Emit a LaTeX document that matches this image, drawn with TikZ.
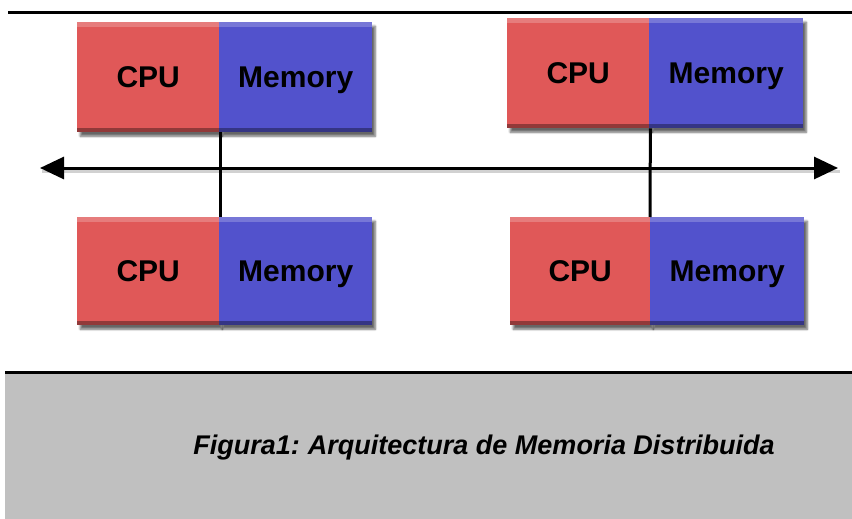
\documentclass[tikz,border=0pt]{standalone}
\usepackage{fontspec}
\setmainfont{Liberation Sans}
\usetikzlibrary{shadows.blur,arrows.meta}
\definecolor{cpured}{RGB}{224,88,88}
\definecolor{memblue}{RGB}{82,82,204}
\definecolor{capgray}{RGB}{192,192,192}
\tikzset{
  part/.style={anchor=north west, inner sep=0pt, minimum height=110pt,
    font=\fontsize{30}{30}\selectfont\bfseries, text height=21pt, text depth=0pt,
    blur shadow={shadow xshift=3pt, shadow yshift=-4pt, shadow blur steps=6, shadow opacity=60},
    path picture={
      \fill[white,opacity=0.22] (path picture bounding box.north west) rectangle ([yshift=-5pt]path picture bounding box.north east);
      \fill[black,opacity=0.35] (path picture bounding box.south west) rectangle ([yshift=4pt]path picture bounding box.south east);
    }},
  cpubox/.style={part, fill=cpured, minimum width=142pt},
  membox/.style={part, fill=memblue, minimum width=154pt},
  bus/.style={line width=3pt, black},
  busshadow/.style={line width=3pt, black!30, opacity=0.6}
}
\begin{document}
\begin{tikzpicture}[x=1pt,y=-1pt]
\useasboundingbox (0,0) rectangle (852,519);
% top rule
\draw[line width=3pt] (8,12.5) -- (852,12.5);
% processor/memory pairs
\node[cpubox] (c1) at (77,22) {CPU};
\node[membox, minimum width=153pt] (m1) at (219,22) {Memory};
\node[cpubox] (c2) at (507,18) {CPU};
\node[membox] (m2) at (649,18) {Memory};
\node[cpubox, minimum height=108pt] (c3) at (77,217) {CPU};
\node[membox, minimum height=108pt, minimum width=153pt] (m3) at (219,217) {Memory};
\node[cpubox, minimum height=108pt, minimum width=140pt] (c4) at (510,217) {CPU};
\node[membox, minimum height=108pt] (m4) at (650,217) {Memory};
% bus
\coordinate (la) at (40,168);
\coordinate (ra) at (838,168);
\draw[busshadow] ([shift={(2,3)}]la) -- ([shift={(2,3)}]ra);
\draw[bus, {Triangle[length=24pt,width=22pt]}-{Triangle[length=24pt,width=22pt]}] (la) -- (ra);
\draw[bus] ([xshift=1pt]c1.south east) -- ([xshift=1pt]c3.north east);
\draw[bus] ([xshift=1pt]c2.south east) -- (m4.north west);
% caption area
\fill[capgray] (5,374) rectangle (852,519);
\draw[line width=3pt] (5,372.5) -- (852,372.5);
\node[font=\fontsize{27}{27}\selectfont\bfseries\itshape, inner sep=0pt] (cap) at (484,448) {Figura1:\kern-2pt{} Arquitectura de Memoria Distribuida};
\end{tikzpicture}
\end{document}
